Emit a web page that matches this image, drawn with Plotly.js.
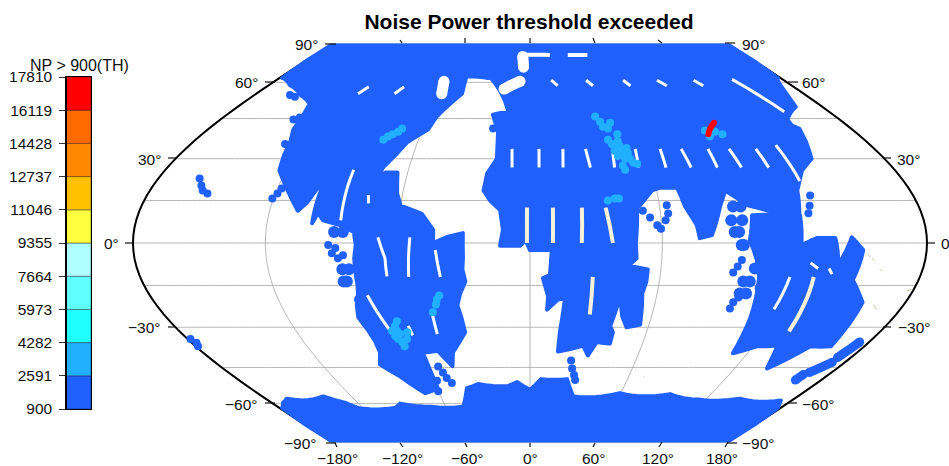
<!DOCTYPE html>
<html>
<head>
<meta charset="utf-8">
<script src="https://cdn.plot.ly/plotly-3.0.1.min.js"></script>
<style>
html,body{margin:0;padding:0;background:#fff}
.trace.scattergeo path{stroke-linecap:butt;stroke-linejoin:round}
</style>
</head>
<body>
<div id="chart" style="width:949px;height:466px"></div>
<script>
var titleText = "Noise Power threshold exceeded";
var keyTitle = "NP > 900(TH)";
var keyTicks = [900,2591,4282,5973,7664,9355,11046,12737,14428,16119,17810];
var keyColors = ["#2060ff","#20b0ff","#20ffff","#60ffff","#b0ffff","#ffff40","#ffc000","#ff8800","#ff6a00","#ff0000"];

// North polar swath envelope
var capLon = [-179.5,-150,-120,-90,-60,-30,0,30,60,90,120,150,179.5,179.5,179.5,178,150,120,90,60,30,0,-30,-60,-90,-120,-150,-178,-179.5,-179.5];
var capLat = [89.5,89.5,89.5,89.5,89.5,89.5,89.5,89.5,89.5,89.5,89.5,89.5,89.5,80,70,62,62,62,62,62,62,62,62,62,62,62,62,62,70,80];
// Americas swath envelope
var amerLon = [-177,-150,-120,-90,-60,-46,-44.7,-50,-55,-57,-65.6,-69,-73,-74.7,-71,-65,-62.6,-60,-49.7,-44,-44,-37.7,-30.5,-30.5,-31,-30,-33,-35,-34,-33.4,-37,-42.4,-45,-50.4,-59,-59,-59.3,-69,-79,-86.5,-82.5,-82,-83,-85,-83.5,-81.2,-80.4,-80,-79,-80,-86.6,-94.6,-97.5,-99.4,-98.9,-103.7,-107,-123.5,-126.2,-128,-132.2,-134,-137.5,-150,-165.6];
var amerLat = [62,62,62,62,62,62,55,50.8,45.8,40.8,36,31.4,26.8,19.6,25,25,17.5,13.2,10.3,4.6,0,2.1,3.5,-5.4,-9.3,-13.6,-17.9,-22.1,-26.4,-31.8,-35,-39.3,-44.5,-38.7,-39.3,-46,-53.3,-55.4,-48.5,-43.8,-39.3,-35,-30.7,-26.4,-22.1,-17.9,-14.8,-5.4,-0.7,3.9,6.3,8,10.7,7,23.2,14.3,11.4,25.7,31.4,36,40.8,45.8,50.8,54.5,58.8];
// Eurasia and Africa swath envelope
var eurLon = [-28,0,30,60,90,120,150,177,168,163.5,149.6,148.6,151,147.7,143,134,130,126.6,123,101,92.4,88,82.6,77,76,71.8,70,62,57.8,51,49.5,48,48.5,45,54,54,53,54,55.5,49,45.5,42.8,40.6,42.7,42.6,35.5,32.2,28.5,15.3,15.4,16.7,13.4,8.3,8.6,6,9.2,10,9,0,-2,-4.5,-13.6,-12.3,-13.8,-18.6,-22,-21,-16.8,-17.7,-22,-13,-16];
var eurLat = [62,62,62,62,62,62,62,62,54.5,49.6,44.6,42.3,41.2,36.4,30,25.7,22.1,18.6,8,13.3,18.6,12.9,2.8,1.7,6.3,12.9,19.6,19.6,18.6,13.3,12.5,0,-5.4,-8,-9.3,-13.6,-17.9,-22.1,-29,-30,-26,-19,-29.6,-31.8,-36,-35.4,-40.4,-36.7,-38.9,-31.8,-19.3,-20,-23.6,-18.9,-12.4,-11.3,-1.4,-2.5,-2.5,1,-1,-1,4.6,11.6,15,18.6,24.6,30,40,46.5,47.7,52.2];
// Maritime continent and Australia swath envelope
var ausLon = [101.9,123.9,123,130.3,138.5,140.8,146,151.2,149.5,159.4,162,151,139,133,122,112,109.3,105.8,103.3,99.7];
var ausLat = [9.8,9.8,-0.7,1.8,1.8,-7.7,2,-2.5,-13,-21,-37,-37,-45.4,-36.7,-37,-39.6,-27,-12,-6,1];
// Antarctic swath envelope
var antLon = [-172,-165.7,-156.6,-139,-129,-122.4,-96.5,-91,-71,-47.6,-40.6,-32.8,-14,-8,0,6.8,22.8,29,59.4,93,116.5,143,172.5,178,179.5,179.5,179.5,150,120,90,60,30,0,-30,-60,-90,-120,-150,-179.5,-179.5,-179.5,-178];
var antLat = [-59.6,-57.8,-58.6,-56.8,-59.6,-62.3,-61.9,-60,-61.4,-61.4,-53.3,-51.6,-52.4,-50.8,-54,-49.6,-49.6,-56.8,-55.4,-55.8,-58.2,-57.8,-58.6,-62,-70,-80,-89.5,-89.5,-89.5,-89.5,-89.5,-89.5,-89.5,-89.5,-89.5,-89.5,-89.5,-89.5,-89.5,-80,-70,-62];
// Narrow passes south of Australia
var stripLon = [164,164.6,null,166.6,172.7,null,172.5,175];
var stripLat = [-50,-47.8,null,-47,-43,null,-41.2,-35.4];
// Small groups of points
var clusterLon = [94,97.5,92,97,93,95,96,97,-89,-85,-86,-83,-86.5,-85,99,102,99,102,103,108];
var clusterLat = [12.9,12.9,8,8,3.9,3.9,-0.7,-0.7,3.9,3.9,-9.3,-9.3,-13.6,-13.6,-13.6,-13.6,-17.9,-17.9,-9,-16];
// Isolated points, lowest band
var blueLon = [-120.5,-119,-118,-116.6,-137.5,-135,-132,-130,-50.5,-20.7,-160,-157,-155,-152,-178.5,-177.5,-178.8,23.3,24.7,26.6,27.9,52,55,58,59.6,63.4,63.5,62,131.6,129.6,128,128,97,97.4,99,93.4,95,96.5,-91.5,-88.3,-90,-87.4,-85,-82,-83,-78,-77,-53.4,-52,-51,-49,-57.7,-60,-156.7,-152];
var blueLat = [15.7,17.5,19.3,21,44.6,45.4,46.5,35.4,53.7,41.2,22.9,20.4,18.6,17.5,-34.3,-35.7,-37,-42.3,-45.4,-48,-50,11.4,9,6.3,5,13.3,10.4,8,16.8,13.2,10.5,0.3,-23.2,-21,-19.3,-10.4,-8.3,-6,-0.7,-1.8,-3.6,-5.4,-4.3,-20,-24.6,-23.6,-26,-44.6,-47,-49.2,-51.2,-50.3,-54.6,54.5,53.7];
// Second band points
var cyanLon = [-79,-77.4,-75.4,-73,-71.7,38.4,40.4,41.2,43.7,46,47.9,42,47,43.5,47.3,50.6,44,48,50.5,45,48.3,50.8,53.7,51.8,46.3,47,45.8,36.3,39.7,41.6,97.3,98,102.5,105.6,-66.5,-68.4,-70.8,-68.2,-67.2,-70.2,-69.3,-63.2,-64.6,-67.8,-67.5,-43,-44.4,-45.3,-47.5];
var cyanLat = [37,38.2,39,40,41.2,45.8,43.8,41.9,41.2,43.4,39,37,36.4,35.4,34.6,33.9,32.8,32,32,31,30,30,28.2,28.6,27.5,26,33.6,15,15.7,15.7,40.4,38.2,40,39,-27.8,-29.6,-31.4,-31.4,-32.5,-33.2,-34.3,-31.8,-34.3,-35.4,-37,-18.6,-20,-21.8,-24.6];
// Top band points
var redLon = [97.9,99.2,100.4,101.7,103.2,104.7,105.6];
var redLat = [39,40,40.8,41.5,42.3,43,43.4];
// Uncovered slivers between swaths
var gapLon = [-9.4,-8.9,null,4.7,4.5,null,17.2,16.4,null,29,30,null,43,42,null,55,54,null,68,67.5,null,79,80,null,93,93,null,104,105,null,118,118.5,null,130,130,null,
 39.8,43.3,null,66,69,null,90,94,null,116,119,null,15,19,null,144,149.5,153,null,-113,-110,null,-89,-86,null,-87,-87,-86.5,null,-76,-75,null,
 -69,-66,-66,null,-54.5,-56,null,-43,-41.4,null,-48,-48,null,-61.6,-61,null,-77,-72,null,120,118.6,null,128,132,null,137,139];
var gapLat = [33.6,26.8,null,33.6,26.8,null,33.6,26.8,null,33.6,26.8,null,33.6,26.8,null,33.6,26.8,null,33.6,26.8,null,33.6,26.8,null,33.6,26.8,null,33.6,26.8,null,33.6,26.8,null,35,22,null,
 61,58.5,null,61,58.5,null,61,58.5,null,61,58.5,null,61,58.5,null,61.4,54,47.7,null,55,58,null,55,58,null,26,20.4,8,null,17,14,null,
 2,-5.4,-11.8,null,2,-12,null,-2.5,-12,null,-24.7,-32.5,null,-29.5,-33,null,-18.5,-30.7,null,-12,-23.5,null,-7,-9,null,-9,-11];
var landGapLon = [-1.4,-1.4,null,10.6,10.4,null,24,23.5,null,35,37.6,null,29,29.4,null,131,133];
var landGapLat = [12.5,0,null,12.5,0,null,12.5,0,null,12.5,0,null,-12,-25.4,null,-12,-31.5];
var holeLon = [-6,-5,null,-17.5,-7,null,-60.6,-58];
var holeLat = [74,67.5,null,57,60.5,null,60.5,55];
var holeLon2 = [-8,16.6,null,31.6,48];
var holeLat2 = [75,75,null,75,75];
// Small islands visible outside the swaths
var coastLon = [153,155,null,155.6,157,null,160.3,161.5,null,165.3,168.5,null,177,179,null,69,70];
var coastLat = [-3.6,-5,null,-5.4,-6.3,null,-9.3,-10,null,-21.8,-23.6,null,-17,-16.5,null,-48.5,-49];

var latLabels = [
 ["90°",318,45,"right"],["60°",258,83,"right"],["30°",161,159,"right"],["0°",119,243,"right"],["−30°",161,327,"right"],["−60°",258,404,"right"],["−90°",317,443,"right"],
 ["90°",742,44,"left"],["60°",802,83,"left"],["30°",897,159,"left"],["0",941,243,"left"],["−30°",898,327,"left"],["−60°",802,404,"left"],["−90°",742,443,"left"]];
var lonLabels = [["−180°",337],["−120°",402],["−60°",467],["0°",530],["60°",593],["120°",658],["180°",722]];
var tickSegs = [[125,243,133,243],[168,158,176,158],[168,327,176,327],[265,82,275,82],[325,44,336,44],[265,403,275,403],[326,443,336,443],
 [725,43,735,43],[788,82,798,82],[883,158,891,158],[927,243,935,243],[883,327,891,327],[787,403,797,403],[727,443,737,443],
 [335,443,337,447],[400,443,403,447],[465,443,467,447],[530,443,530,447],[595,443,593,447],[662,442,659,447],[728,442,725,447],
 [402,43,400,40],[465,43,465,38],[530,43,530,38],[595,43,593,38],[662,43,658,40]];

function lineTrace(lon,lat,color,width){
  return {type:"scattergeo",mode:"lines",lon:lon,lat:lat,line:{color:color,width:width},hoverinfo:"skip",showlegend:false,geo:"geo"};
}
function dotTrace(lon,lat,color,size){
  return {type:"scattergeo",mode:"markers",lon:lon,lat:lat,marker:{color:color,size:size,line:{width:0}},hoverinfo:"skip",showlegend:false,geo:"geo"};
}
function areaTrace(lon,lat,color){
  return {type:"scattergeo",mode:"lines",lon:lon.concat([lon[0]]),lat:lat.concat([lat[0]]),fill:"toself",fillcolor:color,line:{color:color,width:4},hoverinfo:"skip",showlegend:false,geo:"geo"};
}
var W=949,H=466;
var data=[
  lineTrace(coastLon,coastLat,"#c9c0a6",1),
  areaTrace(capLon,capLat,keyColors[0]),
  areaTrace(antLon,antLat,keyColors[0]),
  areaTrace(amerLon,amerLat,keyColors[0]),
  areaTrace(eurLon,eurLat,keyColors[0]),
  areaTrace(ausLon,ausLat,keyColors[0]),
  lineTrace(stripLon,stripLat,keyColors[0],9),
  dotTrace(stripLon,stripLat,keyColors[0],9),
  dotTrace(clusterLon,clusterLat,keyColors[0],12),
  dotTrace(blueLon,blueLat,keyColors[0],8),
  lineTrace(gapLon,gapLat,"#ffffff",3),
  lineTrace(landGapLon,landGapLat,"#f6f2d8",4),
  lineTrace(holeLon,holeLat,"#ffffff",11),
  dotTrace(holeLon,holeLat,"#ffffff",11),
  lineTrace(holeLon2,holeLat2,"#ffffff",4),
  dotTrace(cyanLon,cyanLat,keyColors[1],8),
  dotTrace(redLon,redLat,keyColors[9],6),
  {type:"bar",xaxis:"x",yaxis:"y",x:keyColors.map(function(){return 0;}),
   base:keyTicks.slice(0,-1),
   y:keyTicks.slice(1).map(function(v,i){return v-keyTicks[i];}),
   width:1,marker:{color:keyColors,line:{color:"rgba(0,0,0,0.55)",width:0.7}},hoverinfo:"skip",showlegend:false}
];
var font={family:"Liberation Sans, Arial, sans-serif",color:"#111"};
var annotations=[];
latLabels.forEach(function(l){
  annotations.push({xref:"paper",yref:"paper",x:l[1]/W,y:1-l[2]/H,text:l[0],showarrow:false,xanchor:l[3],yanchor:"middle",
    font:{family:font.family,size:15.5,color:"#111"},borderpad:0,borderwidth:0,align:l[3]});
});
lonLabels.forEach(function(l){
  annotations.push({xref:"paper",yref:"paper",x:l[1]/W,y:1-458/H,text:l[0],showarrow:false,xanchor:"center",yanchor:"middle",
    font:{family:font.family,size:15.5,color:"#111"},borderpad:0});
});
annotations.push({xref:"paper",yref:"paper",x:79/W,y:1-65/H,text:keyTitle,showarrow:false,xanchor:"center",yanchor:"middle",
  font:{family:font.family,size:16,color:"#111"},borderpad:0});
var shapes=tickSegs.map(function(t){
  return {type:"line",xref:"paper",yref:"paper",x0:t[0]/W,y0:1-t[1]/H,x1:t[2]/W,y1:1-t[3]/H,line:{color:"#111",width:1.2},layer:"above"};
});
var layout={
  width:W,height:H,margin:{l:0,r:0,t:0,b:0},paper_bgcolor:"#fff",plot_bgcolor:"#fff",font:font,
  title:{text:titleText,font:{family:font.family,size:21,color:"#000",weight:"bold"},x:529/W,xanchor:"center",y:1-22/H,yanchor:"middle"},
  showlegend:false,bargap:0,
  geo:{domain:{x:[133/W,927/W],y:[1-443/H,1-43/H]},
    projection:{type:"eckert6"},
    showland:false,showocean:false,showlakes:false,showrivers:false,showcountries:false,showcoastlines:false,showsubunits:false,
    showframe:true,framecolor:"#000",framewidth:2,bgcolor:"rgba(0,0,0,0)",
    lonaxis:{showgrid:true,dtick:60,gridcolor:"#9a9a9a",gridwidth:0.7,range:[-180,180]},
    lataxis:{showgrid:true,dtick:15,gridcolor:"#9a9a9a",gridwidth:0.7,range:[-90,90]}},
  xaxis:{domain:[66.5/W,91/W],range:[-0.5,0.5],showticklabels:false,ticks:"",showgrid:false,zeroline:false,showline:true,mirror:true,linecolor:"#000",linewidth:1.2,fixedrange:true},
  yaxis:{domain:[1-409/H,1-77/H],range:[900,17810],tickvals:keyTicks,ticktext:keyTicks.map(String),ticks:"outside",ticklen:6,tickcolor:"#333",tickwidth:1,
    tickfont:{family:font.family,size:15.5,color:"#111"},ticklabelstandoff:4,showgrid:false,zeroline:false,showline:true,mirror:true,linecolor:"#000",linewidth:1.2,fixedrange:true},
  annotations:annotations,shapes:shapes
};
Plotly.newPlot("chart",data,layout,{displayModeBar:false,staticPlot:true});
</script>
</body>
</html>
